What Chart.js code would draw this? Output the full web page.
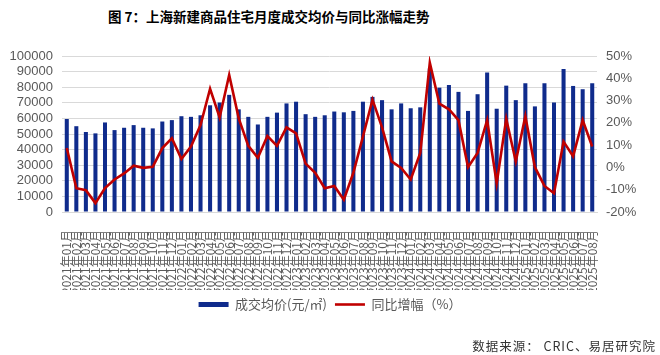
<!DOCTYPE html>
<html lang="zh">
  <head>
    <meta charset="UTF-8" />
    <title>上海新建商品住宅月度成交均价与同比涨幅走势</title>
    <script src="https://cdn.jsdelivr.net/npm/chart.js"></script>
    <style>
      html, body { margin: 0; padding: 0; background: #fff; }
      #wrap { position: relative; width: 660px; height: 355px; overflow: hidden; }
      #title {
        position: absolute; left: 108px; top: 6px;
        font: bold 13.5px "Noto Sans CJK SC", sans-serif; color: #000; white-space: nowrap;
      }
      #source {
        position: absolute; right: 4px; top: 336px;
        font: 12.5px "Noto Sans CJK SC", sans-serif; color: #333; letter-spacing: 1px; white-space: nowrap;
      }
      canvas { position: absolute; left: 0; top: 0; }
    </style>
  </head>
  <body>
    <div id="wrap">
      <div id="title">图 7：上海新建商品住宅月度成交均价与同比涨幅走势</div>
      <canvas id="chart" width="660" height="355"></canvas>
      <div id="source">数据来源： CRIC、易居研究院</div>
    </div>

    <script>
      // 月份
      const months = [
        "2021年01月", "2021年02月", "2021年03月", "2021年04月", "2021年05月", "2021年06月",
        "2021年07月", "2021年08月", "2021年09月", "2021年10月", "2021年11月", "2021年12月",
        "2022年01月", "2022年02月", "2022年03月", "2022年04月", "2022年05月", "2022年06月",
        "2022年07月", "2022年08月", "2022年09月", "2022年10月", "2022年11月", "2022年12月",
        "2023年01月", "2023年02月", "2023年03月", "2023年04月", "2023年05月", "2023年06月",
        "2023年07月", "2023年08月", "2023年09月", "2023年10月", "2023年11月", "2023年12月",
        "2024年01月", "2024年02月", "2024年03月", "2024年04月", "2024年05月", "2024年06月",
        "2024年07月", "2024年08月", "2024年09月", "2024年10月", "2024年11月", "2024年12月",
        "2025年01月", "2025年02月", "2025年03月", "2025年04月", "2025年05月", "2025年06月",
        "2025年07月", "2025年08月"
      ];

      // 成交均价 (元/㎡)
      const avgPrice = [
        59600, 55000, 51300, 50400, 57400, 52500, 54000, 55700, 54000, 53600, 58000, 58900,
        61400, 61000, 62000, 68400, 70200, 75100, 65800, 61000, 56100, 61000, 63700, 69600,
        70700, 62700, 61000, 62000, 64400, 63900, 64800, 70700, 73800, 71700, 65800, 69600,
        66500, 67100, 92000, 79700, 81400, 77000, 64800, 75500, 89400, 66200, 81000, 71700,
        82500, 67700, 82500, 70200, 91600, 80800, 78700, 82500
      ];

      // 同比增幅 (%)
      const yoy = [
        8.7, -9.3, -10.2, -16.0, -9.3, -5.4, -2.7, 0.8, -0.2, 0.3, 8.7, 13.1,
        3.8, 9.4, 19.0, 35.3, 22.4, 41.5, 22.0, 9.7, 4.3, 14.1, 9.7, 18.0,
        15.3, 1.7, -2.4, -9.3, -8.3, -14.5, -2.4, 13.8, 30.4, 18.0, 2.7, -0.2,
        -5.4, 6.5, 47.0, 28.6, 26.1, 21.2, 0.1, 6.5, 21.2, -7.1, 21.8, 2.7,
        23.0, 0.1, -8.3, -11.6, 11.6, 5.0, 21.2, 9.4
      ];

      const priceTicks = { min: 0, max: 100000, step: 10000 };
      const pctTicks = { min: -20, max: 50, step: 10 };

      const gray = "#595959";
      const ctx = document.getElementById("chart").getContext("2d");

      new Chart(ctx, {
        type: "bar",
        data: {
          labels: months,
          datasets: [
            {
              type: "bar",
              label: "成交均价(元/㎡)",
              data: avgPrice,
              backgroundColor: "#0F2B8C",
              borderWidth: 0,
              pointStyle: "rect",
              yAxisID: "y",
              categoryPercentage: 0.9,
              barPercentage: 0.47,
              order: 2,
            },
            {
              type: "line",
              label: "同比增幅（%）",
              data: yoy,
              borderColor: "#C00000",
              backgroundColor: "#C00000",
              borderWidth: 2.6,
              pointRadius: 0,
              pointStyle: "line",
              tension: 0,
              yAxisID: "y1",
              order: 1,
            },
          ],
        },
        options: {
          responsive: false,
          animation: false,
          layout: { padding: { top: 56, left: 0, right: 0, bottom: 34 } },
          plugins: {
            tooltip: { enabled: false },
            legend: {
              position: "bottom",
              labels: {
                usePointStyle: true,
                pointStyleWidth: 30,
                boxHeight: 5,
                padding: 8,
                color: gray,
                font: { family: "'Noto Sans CJK SC', sans-serif", size: 13 },
                sort: (a, b) => a.datasetIndex - b.datasetIndex,
              },
            },
          },
          scales: {
            x: {
              grid: { display: false },
              border: { color: "#D9D9D9" },
              ticks: {
                autoSkip: false,
                minRotation: 90,
                maxRotation: 90,
                padding: 10,
                color: gray,
                font: { family: "'Noto Sans CJK SC', sans-serif", size: 12 },
              },
              afterFit: (s) => { s.height = 78; },
            },
            y: {
              position: "left",
              min: priceTicks.min,
              max: priceTicks.max,
              grid: { color: "#D9D9D9", drawTicks: false },
              border: { display: false },
              ticks: {
                stepSize: priceTicks.step,
                autoSkip: false,
                padding: 9,
                color: gray,
                font: { family: "'Liberation Sans', Arial, sans-serif", size: 13 },
                callback: (v) => String(v),
              },
              afterFit: (s) => { s.width = 62; },
            },
            y1: {
              position: "right",
              min: pctTicks.min,
              max: pctTicks.max,
              grid: { display: false, drawTicks: false },
              border: { display: false },
              ticks: {
                stepSize: pctTicks.step,
                autoSkip: false,
                padding: 9,
                color: gray,
                font: { family: "'Liberation Sans', Arial, sans-serif", size: 13 },
                callback: (v) => v + "%",
              },
              afterFit: (s) => { s.width = 63; },
            },
          },
        },
      });
    </script>
  </body>
</html>
